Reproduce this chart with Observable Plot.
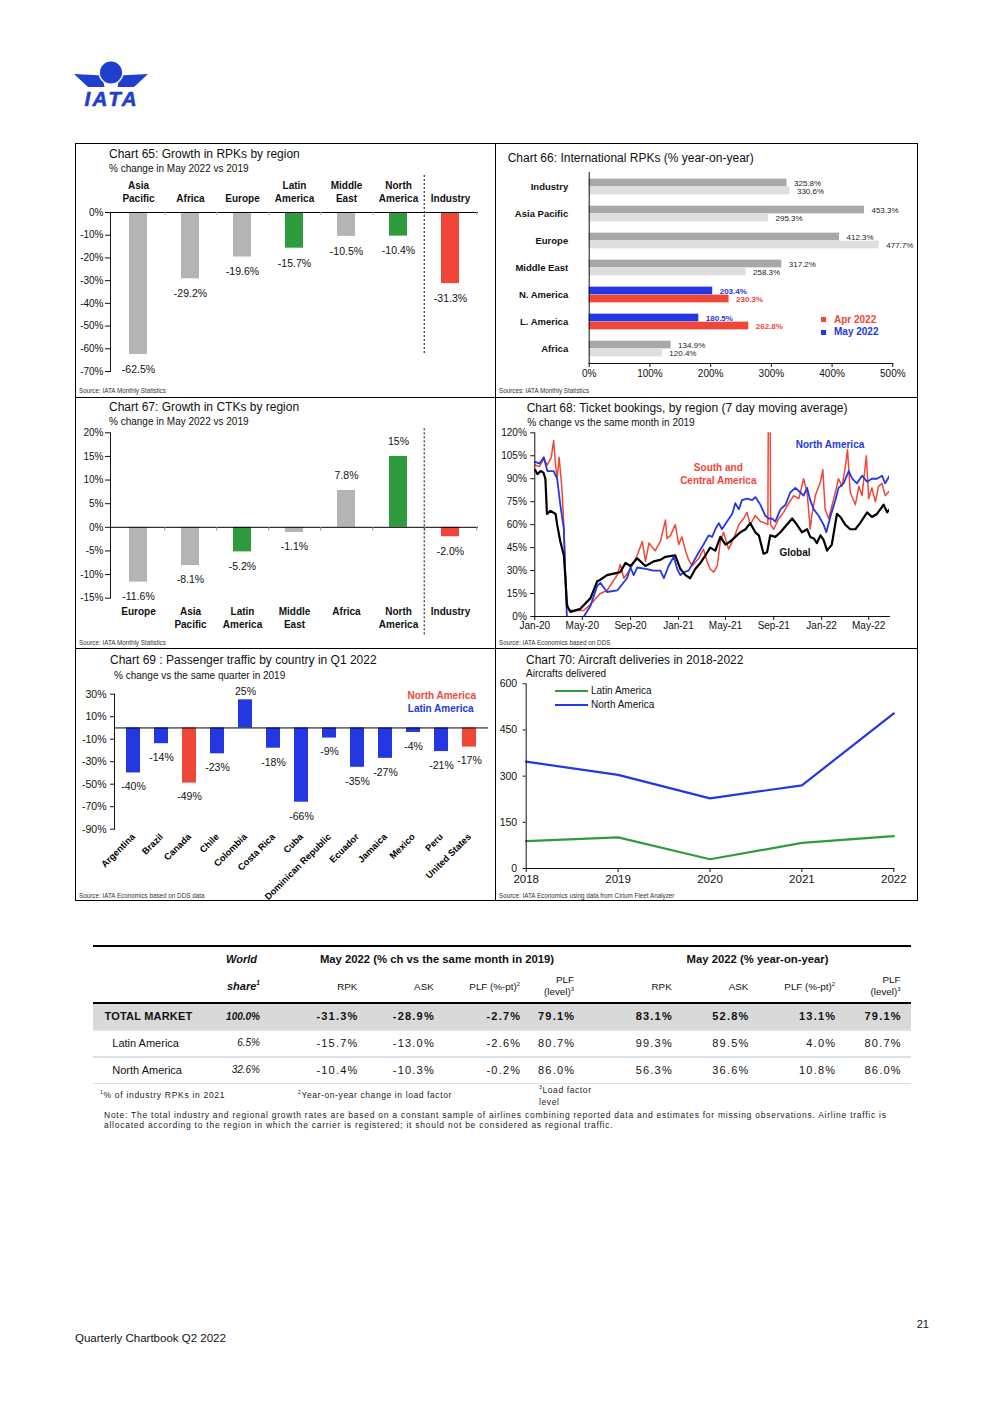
<!DOCTYPE html>
<html><head><meta charset="utf-8">
<script src="https://cdn.jsdelivr.net/npm/d3@7"></script>
<script src="https://cdn.jsdelivr.net/npm/@observablehq/plot@0.6"></script>
<style>
body{margin:0;background:#fff;}
#page{position:relative;width:992px;height:1403px;overflow:hidden;font-family:'Liberation Sans',Arial,sans-serif;color:#111;background:#fff;}
#page div.t{position:absolute;white-space:nowrap;}
sup{font-size:60%;vertical-align:super;line-height:0;}
</style></head>
<body><div id="page"></div>
<script>
// ---------------- DATA ----------------
// Chart 65
const c65Regions = ["Asia\nPacific","Africa","Europe","Latin\nAmerica","Middle\nEast","North\nAmerica","Industry"];
const c65Values = [-62.5,-29.2,-19.6,-15.7,-10.5,-10.4,-31.3];
const c65Groups = ["other","other","other","americas","other","americas","industry"];
const c65Ticks = [0,-10,-20,-30,-40,-50,-60,-70];
// Chart 66
const c66Regions = ["Industry","Asia Pacific","Europe","Middle East","N. America","L. America","Africa"];
const c66May = [325.8,453.3,412.3,317.2,203.4,180.5,134.9];
const c66Apr = [330.6,295.3,477.7,258.3,230.3,262.8,120.4];
const c66Americas = [false,false,false,false,true,true,false];
const c66Ticks = [0,100,200,300,400,500];
// Chart 67
const c67Regions = ["Europe","Asia\nPacific","Latin\nAmerica","Middle\nEast","Africa","North\nAmerica","Industry"];
const c67Values = [-11.6,-8.1,-5.2,-1.1,7.8,15,-2.0];
const c67Labels = ["-11.6%","-8.1%","-5.2%","-1.1%","7.8%","15%","-2.0%"];
const c67Groups = ["other","other","americas","other","other","americas","industry"];
const c67Ticks = [20,15,10,5,0,-5,-10,-15];
// Chart 68 (7-day moving average, % vs 2019)
const c68Global = [["2020-01-01",96],["2020-01-08",93],["2020-01-16",95],["2020-01-23",94],["2020-01-28",90],["2020-02-01",67],["2020-02-10",69],["2020-02-23",67],["2020-02-27",60],["2020-03-06",49],["2020-03-15",40],["2020-03-19",25],["2020-03-23",7],["2020-04-01",3],["2020-04-26",5],["2020-05-22",12],["2020-06-08",23],["2020-06-16",24],["2020-07-03",27],["2020-08-06",29],["2020-08-19",35],["2020-09-01",33],["2020-09-18",38],["2020-10-09",33],["2020-10-30",36],["2020-11-16",37],["2020-11-29",39],["2020-12-24",40],["2021-01-06",31],["2021-01-19",27],["2021-01-31",25],["2021-02-13",31],["2021-02-26",35],["2021-03-11",40],["2021-03-23",45],["2021-04-05",43],["2021-04-18",52],["2021-05-01",47],["2021-05-13",49],["2021-05-26",52],["2021-06-08",55],["2021-06-21",57],["2021-07-03",61],["2021-07-16",55],["2021-07-25",53],["2021-08-06",41],["2021-08-15",42],["2021-08-23",53],["2021-09-05",52],["2021-09-18",55],["2021-10-01",59],["2021-10-18",64],["2021-10-30",60],["2021-11-12",55],["2021-11-25",57],["2021-12-03",52],["2021-12-12",51],["2021-12-20",48],["2021-12-29",53],["2022-01-06",50],["2022-01-15",43],["2022-01-27",47],["2022-02-09",67],["2022-02-18",65],["2022-03-02",60],["2022-03-15",57],["2022-03-28",57],["2022-04-09",61],["2022-04-27",68],["2022-05-09",65],["2022-05-22",67],["2022-06-08",73],["2022-06-17",68],["2022-06-23",70]];
const c68NorthAm = [["2020-01-01",101],["2020-01-13",100],["2020-01-24",104],["2020-02-02",95],["2020-02-18",95],["2020-02-27",90],["2020-03-06",73],["2020-03-15",57],["2020-03-19",25],["2020-03-23",-1],["2020-04-10",-4],["2020-04-26",-3],["2020-05-05",0],["2020-05-22",7],["2020-06-08",20],["2020-06-16",22],["2020-07-03",16],["2020-07-29",17],["2020-08-23",25],["2020-09-01",32],["2020-09-09",27],["2020-09-18",32],["2020-10-13",31],["2020-10-30",30],["2020-11-16",30],["2020-11-25",25],["2020-12-07",33],["2020-12-20",39],["2020-12-29",31],["2021-01-06",27],["2021-01-15",29],["2021-01-27",30],["2021-02-09",36],["2021-02-22",42],["2021-03-06",47],["2021-03-19",53],["2021-03-28",52],["2021-04-05",57],["2021-04-14",61],["2021-04-22",57],["2021-05-05",62],["2021-05-18",67],["2021-05-26",74],["2021-06-04",70],["2021-06-12",76],["2021-06-25",77],["2021-07-08",76],["2021-07-16",78],["2021-07-29",73],["2021-08-10",66],["2021-08-19",64],["2021-08-28",64],["2021-09-05",62],["2021-09-18",70],["2021-10-01",73],["2021-10-13",81],["2021-10-26",84],["2021-11-08",81],["2021-11-16",79],["2021-11-25",84],["2021-12-03",76],["2021-12-12",70],["2021-12-24",66],["2022-01-06",60],["2022-01-13",55],["2022-01-23",65],["2022-02-05",76],["2022-02-13",84],["2022-02-26",87],["2022-03-11",95],["2022-03-20",90],["2022-04-01",87],["2022-04-14",92],["2022-04-27",88],["2022-05-09",90],["2022-05-22",90],["2022-06-04",92],["2022-06-12",87],["2022-06-23",92]];
const c68SouthAm = [["2020-01-01",99],["2020-01-13",98],["2020-01-24",103],["2020-02-02",99],["2020-02-12",104],["2020-02-18",115],["2020-02-23",99],["2020-02-27",90],["2020-03-03",104],["2020-03-10",84],["2020-03-15",60],["2020-03-19",29],["2020-03-23",10],["2020-03-28",4],["2020-05-05",4],["2020-05-22",8],["2020-06-16",15],["2020-07-03",17],["2020-07-29",27],["2020-08-06",34],["2020-08-15",25],["2020-09-01",31],["2020-09-18",40],["2020-10-01",49],["2020-10-09",36],["2020-10-18",48],["2020-10-30",44],["2020-11-03",43],["2020-11-16",49],["2020-11-29",63],["2020-12-03",51],["2020-12-12",53],["2020-12-24",60],["2021-01-02",47],["2021-01-10",52],["2021-01-19",43],["2021-01-27",37],["2021-02-05",33],["2021-02-22",38],["2021-03-06",44],["2021-03-15",36],["2021-03-23",31],["2021-04-01",29],["2021-04-10",33],["2021-04-18",49],["2021-04-26",55],["2021-05-09",44],["2021-05-22",51],["2021-06-04",60],["2021-06-16",64],["2021-06-25",68],["2021-07-03",60],["2021-07-16",66],["2021-07-29",62],["2021-08-10",61],["2021-08-17",60],["2021-08-18",122],["2021-08-23",122],["2021-08-24",60],["2021-09-01",57],["2021-09-14",64],["2021-09-26",68],["2021-10-09",74],["2021-10-22",79],["2021-11-04",77],["2021-11-16",90],["2021-11-25",81],["2021-12-03",57],["2021-12-07",66],["2021-12-16",79],["2021-12-29",88],["2022-01-04",96],["2022-01-10",70],["2022-01-19",64],["2022-02-01",77],["2022-02-13",90],["2022-02-22",85],["2022-03-02",97],["2022-03-08",109],["2022-03-15",81],["2022-03-28",73],["2022-04-06",85],["2022-04-14",79],["2022-04-25",105],["2022-05-01",77],["2022-05-09",84],["2022-05-18",75],["2022-05-26",85],["2022-06-04",87],["2022-06-12",79],["2022-06-23",82]];
const c68Domain = ["2020-01-01","2022-06-23"];
const c68Ticks = ["2020-01-01","2020-05-01","2020-09-01","2021-01-01","2021-05-01","2021-09-01","2022-01-01","2022-05-01"];
const c68YTicks = [0,15,30,45,60,75,90,105,120];
// Chart 69
const c69Countries = ["Argentina","Brazil","Canada","Chile","Colombia","Costa Rica","Cuba","Dominican Republic","Ecuador","Jamaica","Mexico","Peru","United States"];
const c69Values = [-40,-14,-49,-23,25,-18,-66,-9,-35,-27,-4,-21,-17];
const c69Region = ["Latin","Latin","North","Latin","Latin","Latin","Latin","Latin","Latin","Latin","Latin","Latin","North"];
const c69Ticks = [30,10,-10,-30,-50,-70,-90];
// Chart 70
const c70Years = [2018,2019,2020,2021,2022];
const c70Latin = [89,101,30,83,105];
const c70North = [347,304,228,270,504];
const c70Ticks = [0,150,300,450,600];
// Table
const tRows = ["TOTAL MARKET","Latin America","North America"];
const tShare = ["100.0%","6.5%","32.6%"];
const tVs2019 = [["-31.3%","-28.9%","-2.7%","79.1%"],["-15.7%","-13.0%","-2.6%","80.7%"],["-10.4%","-10.3%","-0.2%","86.0%"]];
const tYoY = [["83.1%","52.8%","13.1%","79.1%"],["99.3%","89.5%","4.0%","80.7%"],["56.3%","36.6%","10.8%","86.0%"]];

// ---------------- STYLE ----------------
const FONT = "'Liberation Sans', Arial, sans-serif";
const RED="#ef4638", GREEN="#2e9b3c", BLUE="#2437e3", GRAY="#b4b4b4", DGRAY="#a8a8a8", LGRAY="#dedede";
const baseStyle = {fontFamily: FONT, fontSize: "10px", color: "#111", background: "transparent", overflow: "visible"};
const page = document.getElementById("page");

function T(x, yc, html, o = {}) {
  const fs = o.size || 10;
  const d = document.createElement("div");
  d.className = "t";
  d.innerHTML = html;
  const lh = o.lh || fs;
  d.style.fontSize = fs + "px";
  d.style.lineHeight = lh + "px";
  d.style.top = (yc - lh / 2) + "px";
  if (o.anchor === "end") { d.style.right = (992 - x) + "px"; d.style.textAlign = "right"; }
  else if (o.anchor === "middle") { d.style.left = x + "px"; d.style.transform = "translateX(-50%)"; d.style.textAlign = "center"; }
  else d.style.left = x + "px";
  if (o.css) d.style.cssText += o.css;
  page.appendChild(d);
  return d;
}
function box(l, t, w, h, css) {
  const d = document.createElement("div");
  d.style.cssText = `position:absolute;left:${l}px;top:${t}px;width:${w}px;height:${h}px;` + css;
  page.appendChild(d);
}
function put(el, l, t) {
  el.style.position = "absolute"; el.style.left = l + "px"; el.style.top = t + "px";
  page.appendChild(el);
}

// ---------------- LOGO ----------------
page.insertAdjacentHTML("beforeend", `<svg style="position:absolute;left:70px;top:55px" width="90" height="60" viewBox="70 55 90 60">
<polygon points="74,74 102,75.5 104.5,87 88,87" fill="#1f3fd0"/>
<polygon points="148,74 120,75.5 117.5,87 134,87" fill="#1f3fd0"/>
<circle cx="111" cy="72.5" r="11.8" fill="#1f3fd0" stroke="#fff" stroke-width="1.5"/>
<text x="84.5" y="106" font-family="Liberation Sans, Arial" font-weight="bold" font-style="italic" font-size="20.5" letter-spacing="2.4" fill="#1f3fd0" stroke="#1f3fd0" stroke-width="0.6">IATA</text>
</svg>`);

// ---------------- PANEL BORDERS ----------------
box(75, 143, 841, 756, "border:1px solid #000;");
box(495, 143, 0, 757, "border-left:1px solid #000;");
box(75, 397, 842, 0, "border-top:1px solid #000;");
box(75, 648, 842, 0, "border-top:1px solid #000;");

// ---------------- CHART 65 ----------------
{
  const W = 420, H = 210, mL = 35, mR = 17, mT = 37, mB = 14;
  const step = (W - mL - mR) / c65Regions.length;
  const pxPerUnit = (H - mT - mB) / 70;
  const data = c65Regions.map((r, i) => ({region: r, value: c65Values[i], group: c65Groups[i]}));
  const svg = Plot.plot({
    width: W, height: H, marginLeft: mL, marginRight: mR, marginTop: mT, marginBottom: mB, style: baseStyle,
    x: {domain: c65Regions, paddingInner: 0.65, paddingOuter: 0.325},
    y: {domain: [-70, 0]},
    color: {domain: ["other", "americas", "industry"], range: [GRAY, GREEN, RED]},
    marks: [
      Plot.barY(data, {x: "region", y: "value", fill: "group"}),
      Plot.ruleY([0], {stroke: "#000", strokeWidth: 1}),
      Plot.ruleX(c65Regions, {dx: step / 2, y1: 0, y2: -3 / pxPerUnit, stroke: "#aaa"}),
      Plot.ruleX(["Industry"], {dx: -step / 2, stroke: "#000", strokeDasharray: "2,2", insetTop: -37, insetBottom: 16}),
      Plot.text(data, {x: "region", y: "value", text: d => d.value.toFixed(1) + "%", dy: 15, fontSize: 10.5}),
      Plot.axisX({anchor: "top", label: null, tickSize: 0, tickPadding: 11, lineHeight: 1.3, fontWeight: "bold", fontSize: 10}),
      Plot.axisY({label: null, ticks: c65Ticks, tickFormat: d => d + "%", tickSize: 5, tickPadding: 2, fontSize: 10}),
      Plot.frame({anchor: "left"})
    ]
  });
  put(svg, 75, 175);
  T(109, 154, "Chart 65: Growth in RPKs by region", {size: 12});
  T(109, 168.7, "% change in May 2022 vs 2019", {size: 10});
  T(79, 391, "Source: IATA Monthly Statistics", {size: 6.3, css: "color:#333;"});
}

// ---------------- CHART 66 ----------------
{
  const W = 422, H = 220, mL = 93.7, mR = 24.7, mT = 7, mB = 22;
  const band = (H - mT - mB) / c66Regions.length;
  const pad = (band - 16) / 2;
  const d66 = c66Regions.map((r, i) => ({region: r, may: c66May[i], apr: c66Apr[i], am: c66Americas[i]}));
  const svg = Plot.plot({
    width: W, height: H, marginLeft: mL, marginRight: mR, marginTop: mT, marginBottom: mB, style: baseStyle,
    x: {domain: [0, 500]},
    y: {domain: c66Regions, padding: 0},
    color: {domain: ["may", "apr", "mayAm", "aprAm"], range: [DGRAY, LGRAY, BLUE, RED]},
    marks: [
      Plot.barX(d66, {x: "may", y: "region", fill: d => d.am ? "mayAm" : "may", insetTop: pad, insetBottom: pad + 8}),
      Plot.barX(d66, {x: "apr", y: "region", fill: d => d.am ? "aprAm" : "apr", insetTop: pad + 8, insetBottom: pad}),
      Plot.text(d66.filter(d => !d.am), {x: "may", y: "region", text: d => d.may.toFixed(1) + "%", dx: 7, dy: -4, textAnchor: "start", fill: "#222", fontSize: 8}),
      Plot.text(d66.filter(d => !d.am), {x: "apr", y: "region", text: d => d.apr.toFixed(1) + "%", dx: 7, dy: 4, textAnchor: "start", fill: "#222", fontSize: 8}),
      Plot.text(d66.filter(d => d.am), {x: "may", y: "region", text: d => d.may.toFixed(1) + "%", dx: 7, dy: -4, textAnchor: "start", fill: BLUE, fontWeight: "bold", fontSize: 8}),
      Plot.text(d66.filter(d => d.am), {x: "apr", y: "region", text: d => d.apr.toFixed(1) + "%", dx: 7, dy: 4, textAnchor: "start", fill: RED, fontWeight: "bold", fontSize: 8}),
      Plot.axisY({label: null, tickSize: 0, tickPadding: 21, fontWeight: "bold", fontSize: 9.5}),
      Plot.axisX({label: null, ticks: c66Ticks, tickFormat: d => d + "%", tickSize: 4, tickPadding: 2, fontSize: 10}),
      Plot.frame({anchor: "left"}),
      Plot.frame({anchor: "bottom"})
    ]
  });
  put(svg, 495, 165);
  T(507.7, 158, "Chart 66: International RPKs (% year-on-year)", {size: 12});
  T(499, 391, "Sources: IATA Monthly Statistics", {size: 6.3, css: "color:#333;"});
  box(821, 317, 5, 5, `background:${RED};`);
  box(821, 329.5, 5, 5, `background:${BLUE};`);
  T(834, 319.7, "Apr 2022", {size: 10, css: `color:${RED};font-weight:bold;`});
  T(834, 332, "May 2022", {size: 10, css: `color:${BLUE};font-weight:bold;`});
}

// ---------------- CHART 67 ----------------
{
  const W = 420, H = 215, mL = 35, mR = 17, mT = 7.3, mB = 42.3;
  const step = (W - mL - mR) / c67Regions.length;
  const pxPerUnit = (H - mT - mB) / 35;
  const data = c67Regions.map((r, i) => ({region: r, value: c67Values[i], label: c67Labels[i], group: c67Groups[i]}));
  const svg = Plot.plot({
    width: W, height: H, marginLeft: mL, marginRight: mR, marginTop: mT, marginBottom: mB, style: baseStyle,
    x: {domain: c67Regions, paddingInner: 0.65, paddingOuter: 0.325},
    y: {domain: [-15, 20]},
    color: {domain: ["other", "americas", "industry"], range: [GRAY, GREEN, RED]},
    marks: [
      Plot.barY(data, {x: "region", y: "value", fill: "group"}),
      Plot.ruleY([0], {stroke: "#000", strokeWidth: 1}),
      Plot.ruleX(c67Regions, {dx: step / 2, y1: 0, y2: -4 / pxPerUnit, stroke: "#999"}),
      Plot.ruleX(["Industry"], {dx: -step / 2, stroke: "#000", strokeDasharray: "2,2", insetTop: -4, insetBottom: -37}),
      Plot.text(data.filter(d => d.value < 0), {x: "region", y: "value", text: "label", dy: 14.5, fontSize: 10.5}),
      Plot.text(data.filter(d => d.value >= 0), {x: "region", y: "value", text: "label", dy: -14.5, fontSize: 10.5}),
      Plot.axisX({anchor: "bottom", label: null, tickSize: 0, tickPadding: 8, lineHeight: 1.3, fontWeight: "bold", fontSize: 10}),
      Plot.axisY({label: null, ticks: c67Ticks, tickFormat: d => d + "%", tickSize: 5, tickPadding: 2, fontSize: 10}),
      Plot.frame({anchor: "left"})
    ]
  });
  put(svg, 75, 425);
  T(109, 407, "Chart 67: Growth in CTKs by region", {size: 12});
  T(109, 422, "% change in May 2022 vs 2019", {size: 10});
  T(79, 643, "Source: IATA Monthly Statistics", {size: 6.3, css: "color:#333;"});
}

// ---------------- CHART 68 ----------------
{
  const W = 422, H = 220, mL = 39.3, mR = 28, mT = 7.3, mB = 29;
  const parse = d => new Date(d);
  const svg = Plot.plot({
    width: W, height: H, marginLeft: mL, marginRight: mR, marginTop: mT, marginBottom: mB, style: baseStyle,
    x: {type: "utc", domain: c68Domain.map(parse)},
    y: {domain: [0, 120]},
    marks: [
      Plot.lineY(c68SouthAm, {x: d => parse(d[0]), y: d => d[1], stroke: RED, strokeWidth: 1.5, clip: true}),
      Plot.lineY(c68NorthAm, {x: d => parse(d[0]), y: d => d[1], stroke: BLUE, strokeWidth: 1.8, clip: true}),
      Plot.lineY(c68Global, {x: d => parse(d[0]), y: d => d[1], stroke: "#000", strokeWidth: 2.2, clip: true}),
      Plot.axisX({label: null, ticks: c68Ticks.map(parse), tickFormat: d3.utcFormat("%b-%y"), tickSize: 4, tickPadding: 1, fontSize: 10}),
      Plot.axisY({label: null, ticks: c68YTicks, tickFormat: d => d + "%", tickSize: 4, tickPadding: 4, fontSize: 10}),
      Plot.frame({anchor: "left"}),
      Plot.frame({anchor: "bottom"})
    ]
  });
  put(svg, 495, 425);
  T(526.7, 407.7, "Chart 68: Ticket bookings, by region (7 day moving average)", {size: 12});
  T(527.3, 422.7, "% change vs the same month in 2019", {size: 10});
  T(499, 643, "Source: IATA Economics based on DDS", {size: 6.3, css: "color:#333;"});
  T(830, 444.7, "North America", {size: 10, anchor: "middle", css: `color:${BLUE};font-weight:bold;`});
  T(718.3, 468.7, "South and<br>Central America", {size: 10, lh: 12.6, anchor: "middle", css: `color:${RED};font-weight:bold;`});
  T(795, 553, "Global", {size: 10, anchor: "middle", css: "color:#111;font-weight:bold;"});
}

// ---------------- CHART 69 ----------------
{
  const W = 420, H = 212, mL = 39, mR = 7, mT = 8.7, mB = 68.3;
  const data = c69Countries.map((c, i) => ({country: c, value: c69Values[i], region: c69Region[i]}));
  const svg = Plot.plot({
    width: W, height: H, marginLeft: mL, marginRight: mR, marginTop: mT, marginBottom: mB, style: baseStyle,
    x: {domain: c69Countries, paddingInner: 0.5, paddingOuter: 0.25},
    y: {domain: [-90, 30]},
    color: {domain: ["Latin", "North"], range: [BLUE, RED]},
    marks: [
      Plot.barY(data, {x: "country", y: "value", fill: "region"}),
      Plot.ruleY([0], {stroke: "#000", strokeWidth: 1}),
      Plot.text(data.filter(d => d.value < 0), {x: "country", y: "value", text: d => d.value + "%", dy: 14, fontSize: 10.5}),
      Plot.text(data.filter(d => d.value >= 0), {x: "country", y: "value", text: d => d.value + "%", dy: -8, fontSize: 10.5}),
      Plot.axisX({label: null, tickRotate: -45, tickSize: 0, tickPadding: 6, fontWeight: "bold", fontSize: 9.3, fill: "#000"}),
      Plot.axisY({label: null, ticks: c69Ticks, tickFormat: d => d + "%", tickSize: 4, tickPadding: 4, fontSize: 10.5}),
      Plot.frame({anchor: "left"})
    ]
  });
  put(svg, 75, 685);
  T(110, 659.7, "Chart 69 : Passenger traffic by country in Q1 2022", {size: 12});
  T(114, 675.7, "% change vs the same quarter in 2019", {size: 10});
  T(79, 896.3, "Source: IATA Economics based on DDS data", {size: 6.3, css: "color:#333;"});
  T(441.7, 695.7, "North America", {size: 10, anchor: "middle", css: `color:${RED};font-weight:bold;`});
  T(440.7, 708.7, "Latin America", {size: 10, anchor: "middle", css: `color:${BLUE};font-weight:bold;`});
}

// ---------------- CHART 70 ----------------
{
  const W = 422, H = 216, mL = 30.7, mR = 23.7, mT = 5.3, mB = 26;
  const latin = c70Years.map((y, i) => ({year: y, value: c70Latin[i]}));
  const north = c70Years.map((y, i) => ({year: y, value: c70North[i]}));
  const svg = Plot.plot({
    width: W, height: H, marginLeft: mL, marginRight: mR, marginTop: mT, marginBottom: mB, style: baseStyle,
    x: {domain: [c70Years[0], c70Years[c70Years.length - 1]]},
    y: {domain: [0, 600]},
    marks: [
      Plot.lineY(latin, {x: "year", y: "value", stroke: GREEN, strokeWidth: 2.2}),
      Plot.lineY(north, {x: "year", y: "value", stroke: BLUE, strokeWidth: 2.2}),
      Plot.axisX({label: null, ticks: c70Years, tickFormat: d => String(d), tickSize: 4, tickPadding: 2, fontSize: 11.5}),
      Plot.axisY({label: null, ticks: c70Ticks, tickSize: 3, tickPadding: 6, fontSize: 10.5}),
      Plot.frame({anchor: "left"}),
      Plot.frame({anchor: "bottom"})
    ]
  });
  put(svg, 495, 678);
  T(526, 660, "Chart 70: Aircraft deliveries in 2018-2022", {size: 12});
  T(526, 674, "Aircrafts delivered", {size: 10});
  T(499, 896, "Source: IATA Economics using data from Cirium Fleet Analyzer", {size: 6.3, css: "color:#333;"});
  box(555, 690, 33, 2.4, `background:${GREEN};`);
  box(555, 704.3, 33, 2, `background:${BLUE};`);
  T(591, 691, "Latin America", {size: 10});
  T(591, 705.3, "North America", {size: 10});
}

// ---------------- TABLE ----------------
{
  box(93, 945, 818, 2, "background:#000;");
  box(93, 1002, 818, 2, "background:#000;");
  box(93, 1004, 818, 25.3, "background:#d9d9d9;");
  box(93, 1029.3, 818, 1.6, "background:#dbe2ea;");
  box(93, 1056, 818, 1.6, "background:#dbe2ea;");
  box(93, 1082.7, 818, 1.6, "background:#dbe2ea;");
  T(257, 959.3, "World", {size: 11, anchor: "end", css: "font-weight:bold;font-style:italic;"});
  T(437, 959.3, "May 2022 (% ch vs the same month in 2019)", {size: 11.3, anchor: "middle", css: "font-weight:bold;"});
  T(757.5, 959.3, "May 2022 (% year-on-year)", {size: 11.3, anchor: "middle", css: "font-weight:bold;"});
  T(260, 986.7, "share<sup>1</sup>", {size: 11, anchor: "end", css: "font-weight:bold;font-style:italic;"});
  const colR = [357.3, 433.7, 520, 574, 671.7, 748.3, 835, 900.5];
  const hdr = ["RPK", "ASK", "PLF (%-pt)<sup>2</sup>", "PLF<br>(level)<sup>3</sup>", "RPK", "ASK", "PLF (%-pt)<sup>2</sup>", "PLF<br>(level)<sup>3</sup>"];
  hdr.forEach((h, i) => {
    const two = h.includes("<br>");
    T(colR[i], two ? 980 : 986.7, h, {size: 9.8, lh: two ? 12.8 : 10, anchor: "end"});
  });
  const rowY = [1016.7, 1043.3, 1070];
  tRows.forEach((r, i) => {
    const bold = i === 0;
    T(bold ? 104.5 : 112.3, rowY[i], r, {size: 11, css: bold ? "font-weight:bold;letter-spacing:0.2px;" : ""});
    T(260, rowY[i], tShare[i], {size: 10, anchor: "end", css: "font-style:italic;" + (bold ? "font-weight:bold;" : "")});
    const vals = tVs2019[i].concat(tYoY[i]);
    vals.forEach((v, j) => {
      T(colR[j] + 1.2, rowY[i], v, {size: 11, anchor: "end", css: "letter-spacing:1.2px;" + (bold ? "font-weight:bold;" : "")});
    });
  });
  T(100, 1095, "<sup>1</sup>% of industry RPKs in 2021", {size: 8.5, css: "letter-spacing:0.7px;color:#222;"});
  T(298, 1095, "<sup>2</sup>Year-on-year change in load factor", {size: 8.5, css: "letter-spacing:0.6px;color:#222;"});
  T(539, 1090, "<sup>3</sup>Load factor<br>level", {size: 8.5, lh: 12.3, css: "letter-spacing:0.6px;color:#222;"});
  T(104, 1115, "Note: The total industry and regional growth rates are based on a constant sample of airlines combining reported data and estimates for missing observations. Airline traffic is<br>allocated according to the region in which the carrier is registered; it should not be considered as regional traffic.", {size: 8.5, lh: 10, css: "letter-spacing:0.75px;color:#222;"});
}

// ---------------- FOOTER ----------------
T(929, 1324, "21", {size: 11, anchor: "end"});
T(75, 1338.5, "Quarterly Chartbook Q2 2022", {size: 11.5});
</script>
</body></html>
